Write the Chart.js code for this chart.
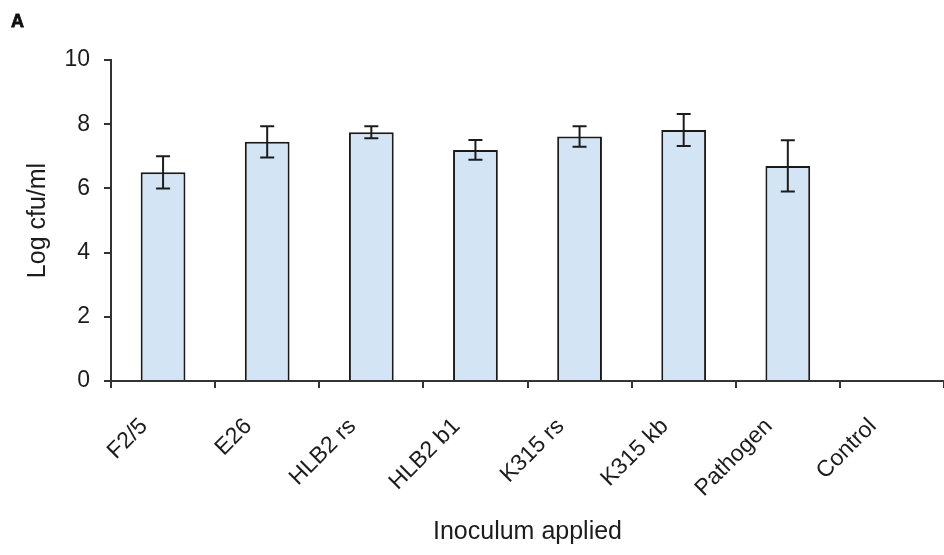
<!DOCTYPE html>
<html>
<head>
<meta charset="utf-8">
<script src="https://cdn.jsdelivr.net/npm/chart.js@4/dist/chart.umd.min.js"></script>
<style>
  html, body { margin: 0; padding: 0; background: #fff; }
  #wrap { width: 944px; height: 555px; position: relative; }
</style>
</head>
<body>
<div id="wrap"><canvas id="c" width="944" height="555"></canvas></div>
<script>
// Bacterial counts recovered per inoculum (mean and standard error)
const inocula = ['F2/5', 'E26', 'HLB2 rs', 'HLB2 b1', 'K315 rs', 'K315 kb', 'Pathogen', 'Control'];
const logCfu = [6.5, 7.45, 7.75, 7.2, 7.62, 7.82, 6.7, 0];
const errCfu = [0.5, 0.49, 0.19, 0.31, 0.32, 0.5, 0.8, 0];
const yTicks = [0, 2, 4, 6, 8, 10];

const ink = '#1c1c1c';

// Draws the +/- error bars with caps on top of each bar
const errorBars = {
  id: 'errorBars',
  afterDatasetsDraw(chart) {
    const meta = chart.getDatasetMeta(0);
    const y = chart.scales.y;
    const ctx = chart.ctx;
    ctx.save();
    ctx.strokeStyle = ink;
    ctx.lineWidth = 2;
    meta.data.forEach((bar, i) => {
      const e = errCfu[i];
      if (!e) return;
      const v = logCfu[i];
      const x = bar.x;
      const top = y.getPixelForValue(v + e);
      const bot = y.getPixelForValue(v - e);
      const cap = 7;
      ctx.beginPath();
      ctx.moveTo(x, top); ctx.lineTo(x, bot);
      ctx.moveTo(x - cap, top); ctx.lineTo(x + cap, top);
      ctx.moveTo(x - cap, bot); ctx.lineTo(x + cap, bot);
      ctx.stroke();
    });
    ctx.restore();
  }
};

// Panel letter in the top-left corner
const panelLetter = {
  id: 'panelLetter',
  afterDraw(chart) {
    const ctx = chart.ctx;
    ctx.save();
    ctx.fillStyle = '#111';
    ctx.strokeStyle = '#111';
    ctx.lineWidth = 0.8;
    ctx.font = 'bold 18px "Liberation Sans", Arial, sans-serif';
    ctx.textAlign = 'left';
    ctx.textBaseline = 'alphabetic';
    ctx.fillText('A', 11, 27);
    ctx.strokeText('A', 11, 27);
    ctx.restore();
  }
};

new Chart(document.getElementById('c'), {
  type: 'bar',
  data: {
    labels: inocula,
    datasets: [{
      data: logCfu,
      backgroundColor: '#d3e4f5',
      borderColor: '#1a1a1a',
      borderWidth: 2,
      categoryPercentage: 1,
      barPercentage: 0.43
    }]
  },
  options: {
    responsive: false,
    animation: false,
    events: [],
    layout: { padding: { top: 60, right: 0, left: 0, bottom: 0 } },
    plugins: {
      legend: { display: false },
      tooltip: { enabled: false }
    },
    scales: {
      x: {
        offset: true,
        border: { display: true, color: '#333', width: 2 },
        grid: { display: true, drawOnChartArea: false, offset: true, color: '#333', lineWidth: 2, tickLength: 7 },
        ticks: {
          color: ink,
          font: { family: '"Liberation Sans", Arial, sans-serif', size: 23 },
          maxRotation: 45,
          minRotation: 45,
          autoSkip: false,
          labelOffset: -19,
          padding: 25
        },
        title: {
          display: true,
          text: 'Inoculum applied',
          color: ink,
          font: { family: '"Liberation Sans", Arial, sans-serif', size: 25 },
          padding: { top: 0, bottom: 8 }
        },
        afterFit(scale) { scale.height = 174; }
      },
      y: {
        min: 0,
        max: 10,
        afterBuildTicks(scale) { scale.ticks = yTicks.map(v => ({ value: v })); },
        border: { display: true, color: '#333', width: 2 },
        grid: { display: true, drawOnChartArea: false, color: '#333', lineWidth: 2, tickLength: 7 },
        ticks: {
          color: ink,
          font: { family: '"Liberation Sans", Arial, sans-serif', size: 23 },
          padding: 14
        },
        title: {
          display: true,
          text: 'Log cfu/ml',
          color: ink,
          font: { family: '"Liberation Sans", Arial, sans-serif', size: 25 },
          padding: { top: 23, bottom: 0 }
        },
        afterFit(scale) { scale.width = 111; }
      }
    }
  },
  plugins: [errorBars, panelLetter]
});
</script>
</body>
</html>
